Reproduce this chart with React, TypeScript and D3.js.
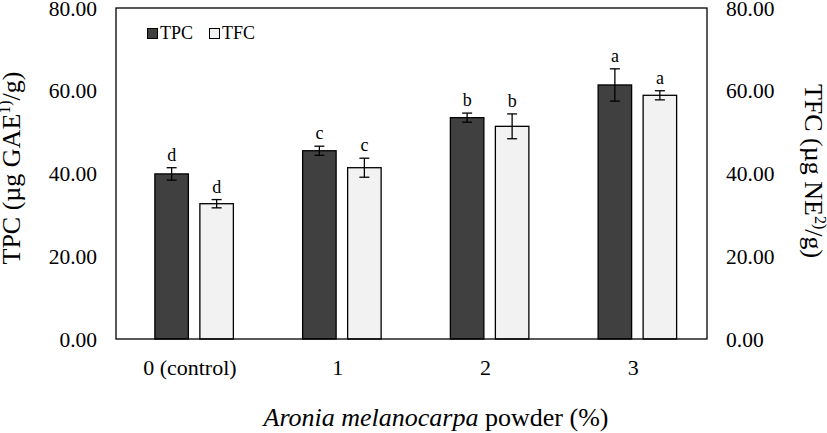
import React from "react";
import * as d3 from "d3";

const categories = ["0 (control)", "1", "2", "3"];
const seriesNames = ["TPC", "TFC"];
const tpcValues = [39.9, 45.5, 53.5, 61.4];
const tpcErrors = [1.5, 1.1, 1.1, 3.9];
const tfcValues = [32.7, 41.4, 51.4, 58.9];
const tfcErrors = [1.0, 2.3, 3.0, 1.1];
const tpcLetters = ["d", "c", "b", "a"];
const tfcLetters = ["d", "c", "b", "a"];
const yTicks = [0, 20, 40, 60, 80];

const W = 827;
const H = 433;
const M = { left: 116, right: 120, top: 8, bottom: 94 };
const font = "'Liberation Serif', 'Times New Roman', serif";
const colors = ["#404040", "#f2f2f2"];

export default function App() {
  const x0 = d3.scaleBand().domain(categories).range([M.left, W - M.right]).paddingInner(0).paddingOuter(0);
  const y = d3.scaleLinear().domain([0, 80]).range([H - M.bottom, M.top]);
  const barW = 33.5;
  const series = [
    { name: seriesNames[0], values: tpcValues, errors: tpcErrors, letters: tpcLetters, color: colors[0] },
    { name: seriesNames[1], values: tfcValues, errors: tfcErrors, letters: tfcLetters, color: colors[1] },
  ];
  const offsets = [-35, 10];
  const capW = 5;
  return (
    <svg width={W} height={H} style={{ display: "block", position: "absolute", left: 0, top: 0 }} fontFamily={font}>
      <rect x={0} y={0} width={W} height={H} fill="#fff" />
      {series.map((s, si) =>
        categories.map((c, i) => {
          const cx = x0(c)! + x0.bandwidth() / 2;
          const bx = cx + offsets[si];
          const v = s.values[i];
          const e = s.errors[i];
          const mx = bx + barW / 2;
          return (
            <g key={`${si}-${i}`}>
              <rect x={bx} y={y(v)} width={barW} height={y(0) - y(v)} fill={s.color} stroke="#000" strokeWidth={1.3} />
              <line x1={mx} x2={mx} y1={y(v + e)} y2={y(v - e)} stroke="#000" strokeWidth={1.3} />
              <line x1={mx - capW} x2={mx + capW} y1={y(v + e)} y2={y(v + e)} stroke="#000" strokeWidth={1.3} />
              <line x1={mx - capW} x2={mx + capW} y1={y(v - e)} y2={y(v - e)} stroke="#000" strokeWidth={1.3} />
              <text x={mx} y={y(v + e) - 7} textAnchor="middle" fontSize={18}>{s.letters[i]}</text>
            </g>
          );
        })
      )}
      <rect x={M.left} y={M.top} width={W - M.right - M.left} height={H - M.bottom - M.top} fill="none" stroke="#000" strokeWidth={1.3} />
      {yTicks.map((t) => (
        <g key={t}>
          <text x={97} y={y(t)} dy="0.35em" textAnchor="end" fontSize={21.5}>{t.toFixed(2)}</text>
          <text x={726} y={y(t)} dy="0.35em" textAnchor="start" fontSize={21.5}>{t.toFixed(2)}</text>
        </g>
      ))}
      {categories.map((c) => (
        <text key={c} x={x0(c)! + x0.bandwidth() / 2} y={375} textAnchor="middle" fontSize={22}>{c}</text>
      ))}
      <text x={436} y={426} textAnchor="middle" fontSize={26}>
        <tspan fontStyle="italic">Aronia melanocarpa</tspan> powder (%)
      </text>
      <text transform={`translate(20,168) rotate(-90)`} textAnchor="middle" fontSize={26}>
        TPC (µg GAE<tspan fontSize={16} dy={-10}>1)</tspan><tspan dy={10}>/g)</tspan>
      </text>
      <text transform={`translate(805,171) rotate(90)`} textAnchor="middle" fontSize={26}>
        TFC (µg NE<tspan fontSize={16} dy={-10}>2)</tspan><tspan dy={10}>/g)</tspan>
      </text>
      <g>
        <rect x={147.5} y={28.5} width={10} height={10} fill={colors[0]} stroke="#000" strokeWidth={1} />
        <text x={160} y={39} fontSize={18}>TPC</text>
        <rect x={209.5} y={28.5} width={10} height={10} fill={colors[1]} stroke="#000" strokeWidth={1} />
        <text x={222} y={39} fontSize={18}>TFC</text>
      </g>
    </svg>
  );
}
